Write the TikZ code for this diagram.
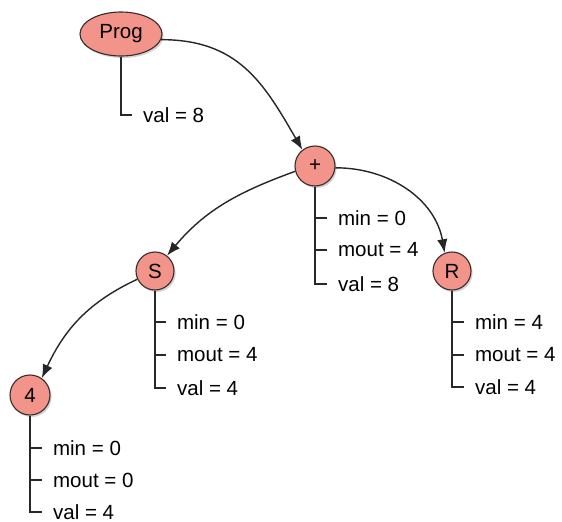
\documentclass[tikz,border=0pt]{standalone}
\usepackage{fontspec}
\setmainfont{Liberation Sans}
\usetikzlibrary{arrows.meta, positioning, shapes.geometric, shadows}
\definecolor{astfill}{RGB}{243,148,138}
\definecolor{astdraw}{RGB}{60,45,45}
\definecolor{attrgray}{RGB}{40,40,40}

\begin{document}
\begin{tikzpicture}[x=0.025cm, y=-0.025cm, font=\fontsize{14.6}{16}\selectfont,
    astnode/.style={draw=astdraw, fill=astfill, thick, inner sep=0pt,
      drop shadow={shadow xshift=0.4mm, shadow yshift=-0.5mm, opacity=0.35, fill=gray}},
    attr/.style={anchor=west, inner xsep=0.27cm, inner ysep=0pt},
    attrline/.style={attrgray, line width=0.9pt},
    edge/.style={-{Latex[length=3.4mm, width=2.6mm]}, line width=1pt, black!85}]
    \useasboundingbox (0,0) rectangle (562,522);

    % tree nodes
    \node[astnode, ellipse, minimum width=2.05cm, minimum height=1.1cm] (prog) at (121,34) {Prog};
    \node[astnode, circle, minimum size=1cm] (plus) at (315,166) {+};
    \node[astnode, circle, minimum size=0.95cm] (s) at (155,271) {S};
    \node[astnode, circle, minimum size=0.95cm] (r) at (452,271) {R};
    \node[astnode, circle, minimum size=1cm] (four) at (30,395) {4};

    % attributes
    \node[attr] (progval) at (132,115) {val = 8};

    \node[attr] (plusmin) at (327,218) {min = 0};
    \node[attr] (plusmout) at (327,250) {mout = 4};
    \node[attr] (plusval) at (327,284) {val = 8};

    \node[attr] (smin) at (166,322) {min = 0};
    \node[attr] (smout) at (166,355) {mout = 4};
    \node[attr] (sval) at (166,388) {val = 4};

    \node[attr] (rmin) at (464,322) {min = 4};
    \node[attr] (rmout) at (464,355) {mout = 4};
    \node[attr] (rval) at (464,387) {val = 4};

    \node[attr] (fourmin) at (42,448) {min = 0};
    \node[attr] (fourmout) at (42,480) {mout = 0};
    \node[attr] (fourval) at (42,512) {val = 4};

    \draw[attrline] (prog.south) |- (progval.west);
    \foreach \n in {plus, s, r, four} {
      \draw[attrline] (\n.south) |- (\n val.west);
      \draw[attrline] (\n.south |- \n min.west) -- (\n min.west);
      \draw[attrline] (\n.south |- \n mout.west) -- (\n mout.west);
    }

    % edges
    \draw[edge] (prog.-8) to[out=0, in=120, looseness=1.1] (plus.128);
    \draw[edge] (plus.195) to[out=200, in=50] (s.52);
    \draw[edge] (plus.-5) to[out=0, in=100] (r.112);
    \draw[edge] (s.205) to[out=205, in=65] (four.55);
\end{tikzpicture}
\end{document}
